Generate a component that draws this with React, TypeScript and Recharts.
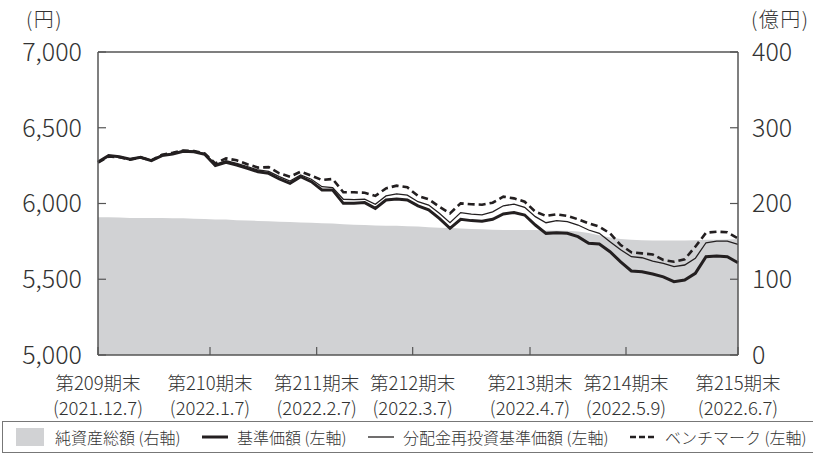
import {
  Area,
  ComposedChart,
  Line,
  ReferenceLine,
  XAxis,
  YAxis,
} from "recharts";

// business-day index from 2021.12.7 (=0) to 2022.6.7 (=120), every 2nd day
const days = [
  0, 2, 4, 6, 8, 10, 12, 14, 16, 18, 20, 22, 24, 26, 28, 30, 32, 34, 36, 38,
  40, 42, 44, 46, 48, 50, 52, 54, 56, 58, 60, 62, 64, 66, 68, 70, 72, 74, 76,
  78, 80, 82, 84, 86, 88, 90, 92, 94, 96, 98, 100, 102, 104, 106, 108, 110,
  112, 114, 116, 118, 120,
];

// 純資産総額 (億円, right axis)
const netAssets = [
  182, 182, 181.5, 181, 181, 181, 181, 180.5, 180.5, 180,
  179.5, 179, 179, 178, 177.5, 177, 176.5, 176, 175.5, 175,
  174.5, 174, 173.5, 172.5, 172, 171.5, 171, 170.5, 170.5, 170,
  169.5, 168.5, 168, 167.5, 167, 166.5, 166, 165.5, 165, 165,
  165, 165, 164.5, 164.5, 164, 163, 161, 158, 155, 153,
  152, 151.5, 151, 151, 151, 151, 151.5, 152, 152, 152.5,
  153,
];

// 基準価額 (円)
const navPrice = [
  6274, 6316, 6309, 6292, 6305, 6283, 6316, 6327, 6345, 6342,
  6325, 6250, 6272, 6254, 6232, 6210, 6199, 6162, 6133, 6177,
  6144, 6089, 6089, 6001, 6001, 6006, 5968, 6023, 6030, 6023,
  5984, 5958, 5902, 5836, 5896, 5887, 5883, 5896, 5931, 5940,
  5924, 5858, 5803, 5807, 5803, 5781, 5737, 5733, 5682, 5615,
  5555, 5550, 5535, 5516, 5484, 5495, 5539, 5649, 5653, 5649,
  5609,
];

// 分配金再投資基準価額 (円)
const reinvestPrice = [
  6274, 6316, 6310, 6294, 6307, 6286, 6320, 6331, 6348, 6345,
  6330, 6258, 6282, 6265, 6243, 6221, 6212, 6177, 6148, 6188,
  6160, 6111, 6105, 6028, 6025, 6028, 5995, 6050, 6063, 6055,
  6012, 5990, 5935, 5873, 5940, 5930, 5925, 5945, 5985, 5996,
  5975, 5913, 5873, 5887, 5880, 5858, 5825, 5803, 5748, 5695,
  5649, 5642, 5620, 5605, 5583, 5594, 5638, 5741, 5752, 5752,
  5731,
];

// ベンチマーク (円)
const benchmark = [
  6270, 6310, 6305, 6290, 6303, 6285, 6322, 6335, 6350, 6346,
  6330, 6265, 6298, 6285, 6259, 6237, 6240, 6199, 6177, 6210,
  6184, 6155, 6162, 6074, 6074, 6071, 6050, 6100, 6118, 6107,
  6050, 6028, 5979, 5935, 6001, 5995, 5992, 6005, 6045, 6034,
  6012, 5946, 5918, 5929, 5918, 5896, 5869, 5847, 5803, 5726,
  5678, 5671, 5664, 5627, 5616, 5632, 5715, 5807, 5814, 5810,
  5770,
];

const periodTicks = [0, 21, 41, 59, 81, 99, 120];
const periodNames = [
  "第209期末",
  "第210期末",
  "第211期末",
  "第212期末",
  "第213期末",
  "第214期末",
  "第215期末",
];
const periodDates = [
  "(2021.12.7)",
  "(2022.1.7)",
  "(2022.2.7)",
  "(2022.3.7)",
  "(2022.4.7)",
  "(2022.5.9)",
  "(2022.6.7)",
];

const yenTicks = [5000, 5500, 6000, 6500, 7000];
const okuTicks = [0, 100, 200, 300, 400];

const legendLabels = [
  "純資産総額 (右軸)",
  "基準価額 (左軸)",
  "分配金再投資基準価額 (左軸)",
  "ベンチマーク (左軸)",
];

const TEXT = "#333";
const AXIS = "#555";
const INK = "#231f20";
const GRAY = "#d1d2d4";

const data = days.map((d, k) => ({
  day: d,
  assets: netAssets[k],
  nav: navPrice[k],
  reinvest: reinvestPrice[k],
  bench: benchmark[k],
}));

const fmt = (v: number) => String(v).replace(/\B(?=(\d{3})+(?!\d))/g, ",");

const PeriodTick = (props: any) => {
  const { x, y, payload } = props;
  const k = periodTicks.indexOf(payload.value);
  if (k < 0) return null;
  return (
    <g>
      <text x={x} y={y + 35} textAnchor="middle" fontSize={18.5} fill={TEXT}>
        {periodNames[k]}
      </text>
      <text x={x} y={y + 60} textAnchor="middle" fontSize={18.5} fill={TEXT}>
        {periodDates[k]}
      </text>
    </g>
  );
};

const Legend = () => {
  const swatchLeft = [16, 202, 368, 630];
  const textLeft = [55, 237, 403, 665];
  const swatch = (k: number) => {
    if (k === 0) return <rect x={0} y={1} width={28} height={18} fill={GRAY} />;
    if (k === 1)
      return <line x1={0} x2={26} y1={10} y2={10} stroke={INK} strokeWidth={3} />;
    if (k === 2)
      return <line x1={0} x2={26} y1={10} y2={10} stroke={INK} strokeWidth={1.3} />;
    return (
      <line x1={0} x2={27} y1={10} y2={10} stroke={INK} strokeWidth={2.6} strokeDasharray="6 3" />
    );
  };
  return (
    <div
      style={{
        position: "absolute",
        left: 2,
        top: 421,
        width: 811,
        height: 32,
        border: "1px solid #777",
        borderRight: "none",
        boxSizing: "border-box",
      }}
    >
      {legendLabels.map((label, k) => (
        <div key={label}>
          <svg
            width={30}
            height={20}
            style={{ position: "absolute", left: swatchLeft[k] - 3, top: 5 }}
          >
            {swatch(k)}
          </svg>
          <span
            style={{
              position: "absolute",
              left: textLeft[k] - 3,
              top: 5,
              fontSize: 16,
              lineHeight: "20px",
              color: TEXT,
              whiteSpace: "nowrap",
            }}
          >
            {label}
          </span>
        </div>
      ))}
    </div>
  );
};

const unitStyle = {
  position: "absolute" as const,
  top: 8,
  fontSize: 20,
  lineHeight: "22px",
  letterSpacing: 1.5,
  color: TEXT,
  whiteSpace: "nowrap" as const,
};

export default function App() {
  return (
    <div
      style={{
        position: "absolute",
        left: 0,
        top: 0,
        width: 813,
        height: 454,
        background: "#fff",
        fontFamily: '"Noto Sans CJK JP", "Noto Sans", sans-serif',
        fontWeight: 300,
        overflow: "hidden",
      }}
    >
      <div style={{ ...unitStyle, left: 26 }}>(円)</div>
      <div style={{ ...unitStyle, left: 751 }}>(億円)</div>
      <ComposedChart
        width={813}
        height={420}
        data={data}
        margin={{ top: 52, right: 0, bottom: 5, left: 0 }}
      >
        <XAxis
          dataKey="day"
          type="number"
          domain={[0, 120]}
          ticks={periodTicks}
          interval={0}
          height={60}
          tickSize={-8}
          tickMargin={8}
          tick={<PeriodTick />}
          axisLine={{ stroke: AXIS, strokeWidth: 1.5 }}
          tickLine={{ stroke: AXIS, strokeWidth: 1.2 }}
        />
        <YAxis
          yAxisId="left"
          domain={[5000, 7000]}
          ticks={yenTicks}
          width={98}
          tickSize={-8}
          tickMargin={24}
          tickFormatter={fmt}
          tick={{ fontSize: 25, fill: TEXT }}
          axisLine={{ stroke: AXIS, strokeWidth: 1.5 }}
          tickLine={{ stroke: AXIS, strokeWidth: 1.2 }}
        />
        <YAxis
          yAxisId="right"
          orientation="right"
          domain={[0, 400]}
          ticks={okuTicks}
          width={75}
          tickSize={-8}
          tickMargin={22}
          tick={{ fontSize: 25, fill: TEXT, textAnchor: "start" }}
          axisLine={{ stroke: AXIS, strokeWidth: 1.5 }}
          tickLine={{ stroke: AXIS, strokeWidth: 1.2 }}
        />
        <ReferenceLine yAxisId="left" y={7000} stroke={AXIS} strokeWidth={1.5} />
        <Area
          yAxisId="right"
          dataKey="assets"
          type="linear"
          fill={GRAY}
          fillOpacity={1}
          stroke="none"
          isAnimationActive={false}
        />
        <Line
          yAxisId="left"
          dataKey="bench"
          type="linear"
          stroke={INK}
          strokeWidth={2.6}
          strokeDasharray="7 4"
          dot={false}
          isAnimationActive={false}
        />
        <Line
          yAxisId="left"
          dataKey="reinvest"
          type="linear"
          stroke={INK}
          strokeWidth={1.3}
          dot={false}
          isAnimationActive={false}
        />
        <Line
          yAxisId="left"
          dataKey="nav"
          type="linear"
          stroke={INK}
          strokeWidth={3}
          dot={false}
          isAnimationActive={false}
        />
      </ComposedChart>
      <Legend />
    </div>
  );
}
